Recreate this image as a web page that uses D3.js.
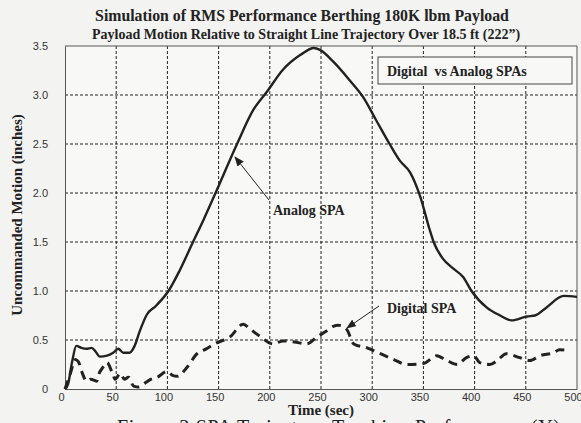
<!DOCTYPE html>
<html>
<head>
<meta charset="utf-8">
<script src="https://cdn.jsdelivr.net/npm/d3@7"></script>
<style>
  body { margin: 0; background: #f3f3f1; }
  svg { display: block; }
</style>
</head>
<body>
<script>
// analog SPA curve (solid)
var analogTime = [0, 3, 7, 11, 16, 21, 26, 30, 34, 41, 47, 52, 57, 63, 68, 73, 80, 89, 101, 112, 125, 135, 147, 168, 184, 197, 213, 230, 243, 249, 262, 278, 291, 304, 317, 327, 337, 347, 356, 360, 369, 379, 389, 397, 412, 425, 436, 451, 459, 470, 487, 500]
var analogVals = [0, 0.05, 0.28, 0.44, 0.42, 0.41, 0.42, 0.38, 0.33, 0.34, 0.37, 0.41, 0.37, 0.37, 0.44, 0.59, 0.76, 0.85, 1.0, 1.21, 1.50, 1.72, 2.0, 2.50, 2.85, 3.03, 3.26, 3.41, 3.48, 3.46, 3.34, 3.15, 2.98, 2.74, 2.50, 2.33, 2.21, 1.96, 1.63, 1.50, 1.33, 1.23, 1.14, 1.00, 0.83, 0.75, 0.70, 0.74, 0.75, 0.83, 0.95, 0.94]

// digital SPA curve (dashed)
var digitalTime = [0, 5, 10, 13, 17, 21, 25, 31, 33, 37, 41, 46, 49, 54, 58, 62, 67, 72, 78, 84, 90, 100, 105, 110, 119, 129, 138, 148, 161, 174, 181, 190, 203, 213, 224, 236, 246, 255, 262, 267, 275, 282, 295, 308, 321, 334, 350, 363, 373, 383, 392, 399, 405, 415, 422, 431, 444, 454, 464, 477, 483, 493]
var digitalVals = [0, 0.15, 0.30, 0.28, 0.16, 0.08, 0.10, 0.08, 0.15, 0.22, 0.27, 0.17, 0.10, 0.16, 0.10, 0.12, 0.03, 0.02, 0.06, 0.10, 0.12, 0.18, 0.14, 0.13, 0.22, 0.36, 0.41, 0.47, 0.53, 0.66, 0.61, 0.54, 0.46, 0.49, 0.48, 0.46, 0.53, 0.59, 0.64, 0.65, 0.61, 0.46, 0.42, 0.36, 0.30, 0.25, 0.26, 0.34, 0.29, 0.25, 0.32, 0.34, 0.27, 0.25, 0.29, 0.36, 0.32, 0.29, 0.34, 0.37, 0.40, 0.39]

var xTicks = [0, 50, 100, 150, 200, 250, 300, 350, 400, 450, 500]
var yTicks = [0, 0.5, 1.0, 1.5, 2.0, 2.5, 3.0, 3.5]

var ink = '#222'
var serif = '"Liberation Serif", "Times New Roman", serif'
var sans = '"Liberation Sans", Arial, sans-serif'

const svg = d3.select('body').append('svg')
    .attr('width', 581)
    .attr('height', 423)

// plot frame (window.top is reserved, so own names)
var plotL = 65, plotR = 577, plotT = 46, plotB = 389

var x = d3.scaleLinear().domain([0, 500]).range([plotL, plotR])
var y = d3.scaleLinear().domain([0, 3.5]).range([plotB, plotT])

svg.append('rect')
    .attr('x', plotL)
    .attr('y', plotT)
    .attr('width', plotR - plotL)
    .attr('height', plotB - plotT)
    .attr('fill', '#f8f8f6')

// grid
svg.append('g')
    .selectAll('line')
    .data(xTicks.slice(1, -1))
    .join('line')
    .attr('x1', d => x(d))
    .attr('x2', d => x(d))
    .attr('y1', plotT)
    .attr('y2', plotB)
    .attr('stroke', ink)
    .attr('stroke-width', 1)
    .attr('stroke-dasharray', '3,2')

svg.append('g')
    .selectAll('line')
    .data(yTicks.slice(1, -1))
    .join('line')
    .attr('x1', plotL)
    .attr('x2', plotR)
    .attr('y1', d => y(d))
    .attr('y2', d => y(d))
    .attr('stroke', ink)
    .attr('stroke-width', 1)
    .attr('stroke-dasharray', '3,2')

// axes
var xAxis = svg.append('g')
    .attr('transform', 'translate(0,' + plotB + ')')
    .call(d3.axisBottom(x).tickValues(xTicks).tickSize(0).tickPadding(4))
xAxis.select('.domain').attr('stroke', '#555')
xAxis.selectAll('text')
    .attr('dx', -4)
    .style('font-family', sans)
    .style('font-size', '11px')
    .attr('fill', '#333')

var yAxis = svg.append('g')
    .attr('transform', 'translate(' + plotL + ',0)')
    .call(d3.axisLeft(y).tickValues(yTicks).tickSize(0).tickPadding(17)
        .tickFormat(d => d === 0 ? '0' : d.toFixed(1)))
yAxis.select('.domain').attr('stroke', '#555')
yAxis.selectAll('text')
    .style('font-family', sans)
    .style('font-size', '11px')
    .attr('fill', '#333')

// top and right border
svg.append('path')
    .attr('d', 'M' + plotL + ',' + plotT + 'H' + plotR + 'V' + plotB)
    .attr('fill', 'none')
    .attr('stroke', '#555')

// curves
var line = d3.line()
    .x(d => x(d[0]))
    .y(d => y(d[1]))
    .curve(d3.curveMonotoneX)

svg.append('path')
    .datum(d3.zip(analogTime, analogVals))
    .attr('d', line)
    .attr('fill', 'none')
    .attr('stroke', ink)
    .attr('stroke-width', 2.4)

svg.append('path')
    .datum(d3.zip(digitalTime, digitalVals))
    .attr('d', line)
    .attr('fill', 'none')
    .attr('stroke', ink)
    .attr('stroke-width', 3)
    .attr('stroke-dasharray', '9,6')

// legend box
svg.append('rect')
    .attr('x', 378)
    .attr('y', 57)
    .attr('width', 194)
    .attr('height', 27)
    .attr('fill', '#f8f8f6')
    .attr('stroke', '#444')
    .attr('stroke-width', 1)

svg.append('text')
    .attr('x', 387)
    .attr('y', 76)
    .style('font-family', serif)
    .style('font-weight', 'bold')
    .style('font-size', '14px')
    .attr('fill', ink)
    .attr('xml:space', 'preserve')
    .text('Digital  vs Analog SPAs')

// arrows
svg.append('defs').append('marker')
    .attr('id', 'head')
    .attr('refX', 9)
    .attr('refY', 4)
    .attr('markerWidth', 10)
    .attr('markerHeight', 8)
    .attr('markerUnits', 'userSpaceOnUse')
    .attr('orient', 'auto')
    .append('path')
    .attr('d', 'M0,0 L10,4 L0,8 Z')
    .attr('fill', ink)

svg.append('line')
    .attr('x1', 269).attr('y1', 200)
    .attr('x2', 235).attr('y2', 157)
    .attr('stroke', ink)
    .attr('stroke-width', 1)
    .attr('marker-end', 'url(#head)')

svg.append('text')
    .attr('x', 273)
    .attr('y', 215)
    .style('font-family', serif)
    .style('font-weight', 'bold')
    .style('font-size', '14px')
    .attr('fill', ink)
    .text('Analog SPA')

svg.append('line')
    .attr('x1', 379).attr('y1', 306)
    .attr('x2', 347).attr('y2', 328)
    .attr('stroke', ink)
    .attr('stroke-width', 1)
    .attr('marker-end', 'url(#head)')

svg.append('text')
    .attr('x', 387)
    .attr('y', 313)
    .style('font-family', serif)
    .style('font-weight', 'bold')
    .style('font-size', '14px')
    .attr('fill', ink)
    .text('Digital SPA')

// titles
svg.append('text')
    .attr('x', 302)
    .attr('y', 21)
    .attr('text-anchor', 'middle')
    .style('font-family', serif)
    .style('font-weight', 'bold')
    .style('font-size', '15.8px')
    .attr('fill', ink)
    .text('Simulation of RMS Performance Berthing 180K lbm Payload')

svg.append('text')
    .attr('x', 306)
    .attr('y', 39)
    .attr('text-anchor', 'middle')
    .style('font-family', serif)
    .style('font-weight', 'bold')
    .style('font-size', '14px')
    .attr('fill', ink)
    .text('Payload Motion Relative to Straight Line Trajectory Over 18.5 ft (222\u201D)')

svg.append('text')
    .attr('transform', 'translate(22,215) rotate(-90)')
    .attr('text-anchor', 'middle')
    .style('font-family', serif)
    .style('font-weight', 'bold')
    .style('font-size', '15px')
    .attr('fill', ink)
    .text('Uncommanded Motion (inches)')

svg.append('text')
    .attr('x', 321)
    .attr('y', 415)
    .attr('text-anchor', 'middle')
    .style('font-family', serif)
    .style('font-weight', 'bold')
    .style('font-size', '15px')
    .attr('fill', ink)
    .text('Time (sec)')

// figure caption, cut off by the bottom edge
svg.append('text')
    .attr('x', 117)
    .attr('y', 434)
    .attr('textLength', 443)
    .attr('lengthAdjust', 'spacing')
    .style('font-family', serif)
    .style('font-size', '20px')
    .attr('fill', ink)
    .text('Figure 3 SPA Trajectory Tracking Performance (Y)')
</script>
</body>
</html>
